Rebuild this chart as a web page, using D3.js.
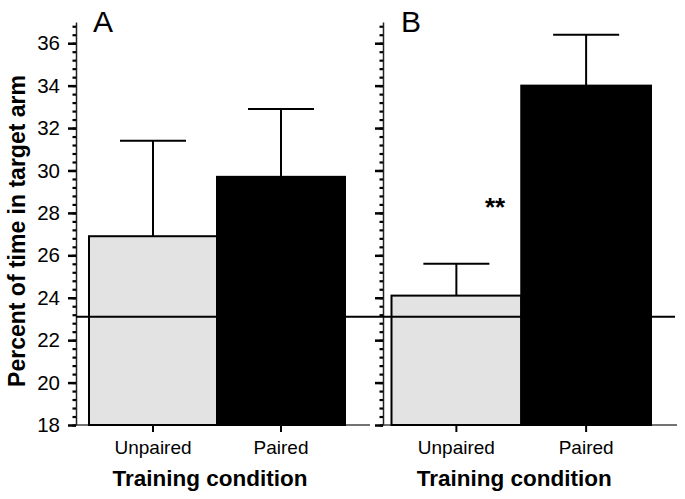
<!DOCTYPE html>
<html><head><meta charset="utf-8">
<script src="https://cdn.jsdelivr.net/npm/d3@7"></script>
<style>body{margin:0;background:#fff}svg{display:block}text{font-family:"Liberation Sans",Arial,sans-serif}</style>
</head><body><svg id="c" width="685" height="499"></svg>
<script>
const categories = ["Unpaired", "Paired"];
const panelLabels = ["A", "B"];
const meansA = [26.9, 29.7];
const errA = [4.5, 3.2];
const meansB = [24.1, 34.0];
const errB = [1.5, 2.4];
const chanceLevel = 23.1;
const yTicks = [18, 20, 22, 24, 26, 28, 30, 32, 34, 36];
const yLabel = "Percent of time in target arm";
const xLabel = "Training condition";
const sigMark = "**";

const svg = d3.select("#c");
const y = d3.scaleLinear().domain([18, 37]).range([425, 22]);
const minor = d3.range(18, 37, 0.4).map(v => +v.toFixed(1));
const fills = ["#e3e3e3", "#000"];

const panels = [
  {label: panelLabels[0], means: meansA, errs: errA, ax: 76, bars: [89, 345], end: 370, showLabels: true, lx: 93},
  {label: panelLabels[1], means: meansB, errs: errB, ax: 383, bars: [391.5, 651], end: 677, showLabels: false, lx: 401}
];

panels.forEach(p => {
  const g = svg.append("g");
  const x = d3.scaleBand().domain(categories).range(p.bars).padding(0);
  g.append("line").attr("x1", p.ax).attr("x2", p.end).attr("y1", y(18)).attr("y2", y(18))
    .attr("stroke", "#444").attr("stroke-width", 1.5);
  g.selectAll("rect.bar").data(categories).join("rect")
    .attr("x", d => x(d)).attr("width", x.bandwidth())
    .attr("y", (d, i) => y(p.means[i])).attr("height", (d, i) => y(18) - y(p.means[i]))
    .attr("fill", (d, i) => fills[i]).attr("stroke", "#000").attr("stroke-width", 2);
  const capW = 66;
  categories.forEach((c, i) => {
    const cx = x(c) + x.bandwidth() / 2;
    g.append("line").attr("x1", cx).attr("x2", cx).attr("y1", y(p.means[i])).attr("y2", y(p.means[i] + p.errs[i]))
      .attr("stroke", "#000").attr("stroke-width", 2);
    g.append("line").attr("x1", cx - capW / 2).attr("x2", cx + capW / 2)
      .attr("y1", y(p.means[i] + p.errs[i])).attr("y2", y(p.means[i] + p.errs[i]))
      .attr("stroke", "#000").attr("stroke-width", 2);
  });
  const xa = g.append("g").attr("transform", `translate(0,${y(18)})`)
    .call(d3.axisBottom(x).tickSize(7).tickPadding(9));
  xa.select(".domain").remove();
  xa.selectAll(".tick line").attr("stroke", "#000").attr("stroke-width", 2);
  xa.selectAll(".tick text").attr("font-size", 19).attr("fill", "#000")
    .attr("font-family", '"Liberation Sans",Arial,sans-serif');
  const ym = g.append("g").attr("transform", `translate(${p.ax},0)`)
    .call(d3.axisLeft(y).tickValues(minor).tickSize(3.5).tickSizeOuter(0).tickFormat(""));
  ym.select(".domain").attr("stroke", "#222").attr("stroke-width", 1.5);
  ym.selectAll(".tick line").attr("stroke", "#000").attr("stroke-width", 2.2);
  const yM = g.append("g").attr("transform", `translate(${p.ax},0)`)
    .call(d3.axisLeft(y).tickValues(yTicks).tickSize(8).tickPadding(8).tickFormat(p.showLabels ? d3.format("d") : ""));
  yM.select(".domain").remove();
  yM.selectAll(".tick line").attr("stroke", "#000").attr("stroke-width", 2.5);
  yM.selectAll(".tick text").attr("font-size", 20.5).attr("fill", "#000")
    .attr("font-family", '"Liberation Sans",Arial,sans-serif');
  g.append("text").attr("x", p.lx).attr("y", 32).attr("font-size", 30).text(p.label);
  g.append("text").attr("x", (p.bars[0] + p.bars[1]) / 2 - 7).attr("y", 486)
    .attr("text-anchor", "middle").attr("font-size", 22.5).attr("font-weight", "bold").text(xLabel);
  if (p.label === "B") {
    g.append("text").attr("x", 495).attr("y", 216).attr("text-anchor", "middle")
      .attr("font-size", 26).attr("font-weight", "bold").text(sigMark);
  }
});

svg.append("line").attr("x1", 76).attr("x2", 675).attr("y1", y(chanceLevel)).attr("y2", y(chanceLevel))
  .attr("stroke", "#000").attr("stroke-width", 2);

svg.append("text").attr("transform", `translate(25,231) rotate(-90)`).attr("text-anchor", "middle")
  .attr("font-size", 23).attr("font-weight", "bold").text(yLabel);
</script></body></html>
